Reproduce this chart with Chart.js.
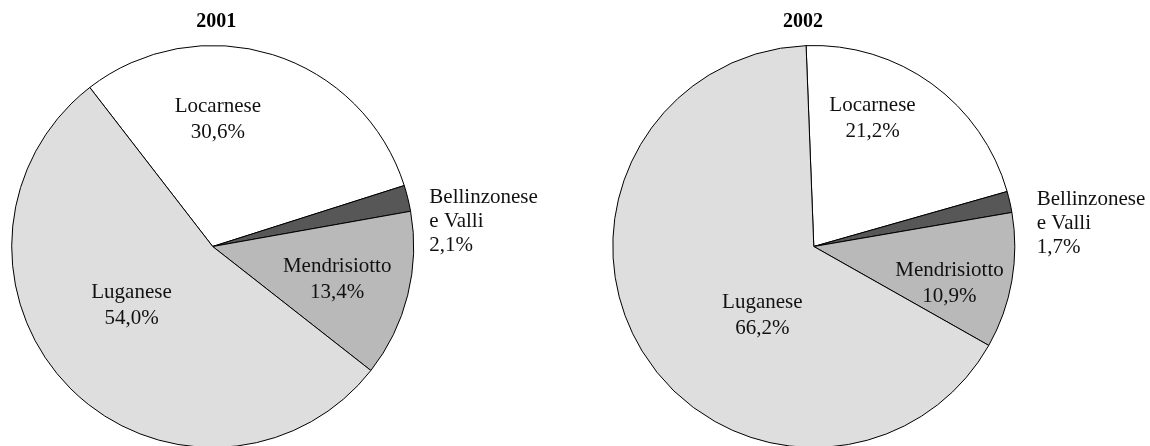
<!DOCTYPE html>
<html lang="it">
<head>
  <meta charset="UTF-8">
  <title>Ripartizione per regione 2001-2002</title>
  <script src="https://cdn.jsdelivr.net/npm/chart.js"></script>
  <style>
    html, body {
      margin: 0;
      padding: 0;
      background: #fff;
      width: 1150px;
      height: 446px;
      overflow: hidden;
    }
    .pie-box {
      position: absolute;
      top: 0;
      height: 463px;
    }
    #box2001 { left: 0; width: 575px; }
    #box2002 { left: 600px; width: 550px; }
  </style>
</head>
<body>
  <div class="pie-box" id="box2001"><canvas id="pie2001"></canvas></div>
  <div class="pie-box" id="box2002"><canvas id="pie2002"></canvas></div>

  <script>
    // regioni, in senso orario
    const regions = ["Locarnese", "Bellinzonese e Valli", "Mendrisiotto", "Luganese"];
    const share2001 = [30.6, 2.1, 13.4, 54.0];
    const share2002 = [21.2, 1.7, 10.9, 66.2];
    const sliceColors = ["#ffffff", "#575757", "#b9b9b9", "#dedede"];

    const FONT = "'Liberation Serif', 'Times New Roman', serif";

    // where each label sits: angle shift from the slice middle (deg) and distance as a fraction of the radius
    const labelPlace2001 = [
      { shift: -15, frac: 0.63 },
      { shift: 7.2, frac: 1.085, outside: true },
      { shift: 0.7, frac: 0.64 },
      { shift: 8.7, frac: 0.5 }
    ];
    const labelPlace2002 = [
      { shift: -11.3, frac: 0.7 },
      { shift: 7, frac: 1.115, outside: true },
      { shift: 5.5, frac: 0.7 },
      { shift: -22.1, frac: 0.43 }
    ];

    function fmt(v) {
      return v.toFixed(1).replace(".", ",") + "%";
    }

    const sliceLabels = {
      id: "sliceLabels",
      afterDatasetsDraw(chart, args, opts) {
        const ctx = chart.ctx;
        const meta = chart.getDatasetMeta(0);
        const values = chart.data.datasets[0].data;
        ctx.save();
        ctx.fillStyle = "#111";
        ctx.textBaseline = "middle";

        // title over the pie, slightly off centre like the original
        const first = meta.data[0];
        ctx.font = "bold 20px " + FONT;
        ctx.textAlign = "center";
        ctx.fillStyle = "#000";
        ctx.fillText(opts.title, first.x + opts.titleShift, 22);

        ctx.fillStyle = "#111";
        ctx.font = "21px " + FONT;
        meta.data.forEach((arc, i) => {
          const p = arc.getProps(["x", "y", "startAngle", "endAngle", "outerRadius"], true);
          const place = opts.places[i];
          const a = (p.startAngle + p.endAngle) / 2 + place.shift * Math.PI / 180;
          const d = p.outerRadius * place.frac;
          const x = p.x + d * Math.cos(a);
          const y = p.y + d * Math.sin(a);
          let lines;
          if (place.outside) {
            const parts = chart.data.labels[i].split(" ");
            lines = [parts[0], parts.slice(1).join(" "), fmt(values[i])];
            ctx.textAlign = "left";
          } else {
            lines = [chart.data.labels[i], fmt(values[i])];
            ctx.textAlign = "center";
          }
          const lh = place.outside ? 24 : 26;
          const top = y - (lines.length - 1) * lh / 2;
          lines.forEach((t, k) => ctx.fillText(t, x, top + k * lh));
        });
        ctx.restore();
      }
    };

    function makePie(id, year, values, rotation, padRight, places, titleShift) {
      new Chart(document.getElementById(id), {
        type: "pie",
        data: {
          labels: regions,
          datasets: [{
            data: values,
            backgroundColor: sliceColors,
            borderColor: "#000",
            borderWidth: 1
          }]
        },
        options: {
          responsive: true,
          maintainAspectRatio: false,
          animation: false,
          rotation: rotation,
          radius: 201,
          layout: { padding: { left: 0, right: padRight, top: 30, bottom: 0 } },
          plugins: {
            legend: { display: false },
            tooltip: { enabled: false },
            title: { display: false },
            sliceLabels: { places: places, title: year, titleShift: titleShift }
          }
        },
        plugins: [sliceLabels]
      });
    }

    makePie("pie2001", "2001", share2001, -37.7, 149.6, labelPlace2001, 3.6);
    makePie("pie2002", "2002", share2002, -2.2, 122.4, labelPlace2002, -10.8);
  </script>
</body>
</html>
